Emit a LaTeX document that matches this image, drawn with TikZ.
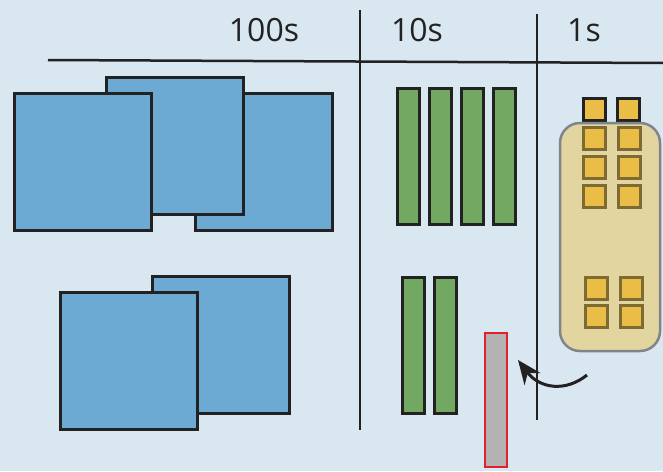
\documentclass[tikz,border=0pt]{standalone}
\usepackage{fontspec}
\setmainfont{Open Sans}
\usetikzlibrary{arrows.meta}
\definecolor{bgc}{HTML}{D9E7F1}
\definecolor{bluef}{HTML}{6DAAD3}
\definecolor{greenf}{HTML}{72A862}
\definecolor{tanf}{HTML}{E2D59F}
\definecolor{tanb}{HTML}{7F868A}
\definecolor{goldf}{HTML}{EABD46}
\definecolor{goldb}{HTML}{7E6A33}
\definecolor{greyf}{HTML}{B3B3B3}
\definecolor{redb}{HTML}{E0202A}
\definecolor{ink}{HTML}{222222}
\tikzset{
  base/.style={anchor=north west, inner sep=0pt, outer sep=0pt},
  bigsq/.style={base, draw=ink, line width=3pt, fill=bluef, minimum width=137pt, minimum height=137pt},
  bar/.style={base, draw=ink, line width=3pt, fill=greenf, minimum width=22pt, minimum height=136pt},
  coin/.style={base, draw=ink, line width=3pt, fill=goldf, minimum width=22pt, minimum height=22pt},
  coinin/.style={coin, draw=goldb},
  tray/.style={base, draw=tanb, line width=2.5pt, fill=tanf, rounded corners=20pt, minimum width=100pt, minimum height=228pt},
  redbar/.style={base, draw=redb, line width=2.5pt, fill=greyf, minimum width=22pt, minimum height=134pt},
  rule/.style={draw=ink, line width=2.5pt},
  head/.style={font=\fontsize{32pt}{36pt}\selectfont, text=ink, anchor=base},
}
\begin{document}
\begin{tikzpicture}[x=1pt, y=-1pt]
\fill[bgc] (0,0) rectangle (663,471);
\useasboundingbox (0,0) rectangle (663,471);
% headers
\node[head] (h100) at (264,41) {100s};
\node[head] (h10) at (417,41) {10s};
\node[head] (h1) at (584,41) {1s};
% rules
\draw[rule] (48,60) -- (663,63);
\draw[rule] (360,10) -- (360,430);
\draw[rule] (537,14) -- (537,420);
% hundreds, top group
\node[bigsq] (s3) at (195,93) {};
\node[bigsq] (s2) at (106,77) {};
\node[bigsq] (s1) at (14,93) {};
% hundreds, bottom group
\node[bigsq] (s5) at (152,276) {};
\node[bigsq] (s4) at (60,292) {};
% tens
\node[bar] (t1) at (397,88) {};
\node[bar] (t2) at (429,88) {};
\node[bar] (t3) at (461,88) {};
\node[bar] (t4) at (493,88) {};
\node[bar] (t5) at (402,277) {};
\node[bar] (t6) at (434,277) {};
% ones
\node[coin] (c1) at (583,98) {};
\node[coin] (c2) at (617,98) {};
\node[tray] (tray) at (560,123) {};
\node[coinin] (c3) at (583,127) {};
\node[coinin] (c4) at (618,127) {};
\node[coinin] (c5) at (583,156) {};
\node[coinin] (c6) at (618,156) {};
\node[coinin] (c7) at (583,185) {};
\node[coinin] (c8) at (618,185) {};
\node[coinin] (c9) at (585,277) {};
\node[coinin] (c10) at (620,277) {};
\node[coinin] (c11) at (585,305) {};
\node[coinin] (c12) at (620,305) {};
% red bar and arrow
\node[redbar] (rb) at (485,333) {};
\coordinate (astart) at (587,375);
\coordinate (aend) at (518,360);
\draw[ink, line width=3pt, -{Stealth[length=24pt, width=20pt]}] (astart) .. controls (566,392) and (540,389) .. (aend);
\end{tikzpicture}
\end{document}
